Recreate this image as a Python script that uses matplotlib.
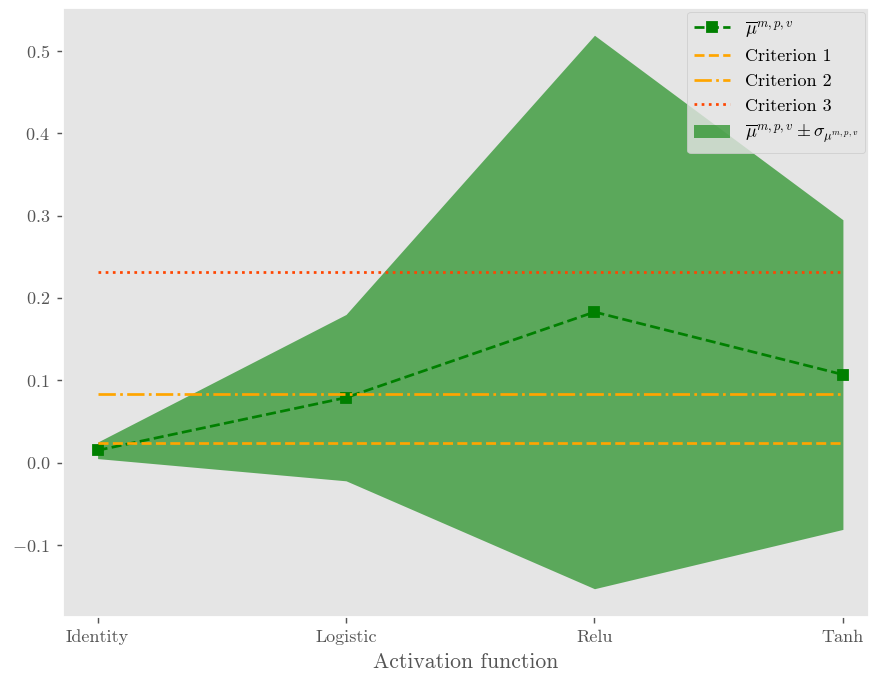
import matplotlib
matplotlib.use("Agg")
import matplotlib.pyplot as plt
import numpy as np

plt.style.use("ggplot")
plt.rcParams["font.family"] = "serif"
plt.rcParams["font.serif"] = ["cmr10"]
plt.rcParams["mathtext.fontset"] = "cm"
plt.rcParams["axes.formatter.use_mathtext"] = True
plt.rcParams["axes.unicode_minus"] = True

activations = ["Identity", "Logistic", "Relu", "Tanh"]
mu_mean = [0.015, 0.079, 0.183, 0.107]
mu_std = [0.010, 0.101, 0.336, 0.188]
criterion_1 = 0.024
criterion_2 = 0.084
criterion_3 = 0.232

x = np.arange(len(activations))
mean = np.array(mu_mean)
std = np.array(mu_std)

DPI = 130
fig, ax = plt.subplots(figsize=(869 / DPI, 674 / DPI), dpi=DPI)

ax.plot(x, mean, "s--", color="green", label=r"$\overline{\mu}^{m,p,v}$")
ax.hlines(criterion_1, x[0], x[-1], colors="orange", linestyles="--", label="Criterion 1")
ax.hlines(criterion_2, x[0], x[-1], colors="orange", linestyles="-.", label="Criterion 2")
ax.hlines(criterion_3, x[0], x[-1], colors="orangered", linestyles=":", label="Criterion 3")
ax.fill_between(x, mean - std, mean + std, color="green", alpha=0.6, linewidth=0,
                label=r"$\overline{\mu}^{m,p,v} \pm \sigma_{\mu^{m,p,v}}$")

ax.set_xticks(x)
ax.set_xticklabels(activations)
ax.set_xlabel("Activation function")
ax.set_xlim(-0.141, 3.105)
ax.set_ylim(-0.187, 0.552)
ax.grid(False)
ax.legend(loc="upper right", borderaxespad=0.2)

fig.subplots_adjust(left=0.072, right=1.0, top=0.988, bottom=0.085)
fig.savefig("out.png", dpi=DPI)
